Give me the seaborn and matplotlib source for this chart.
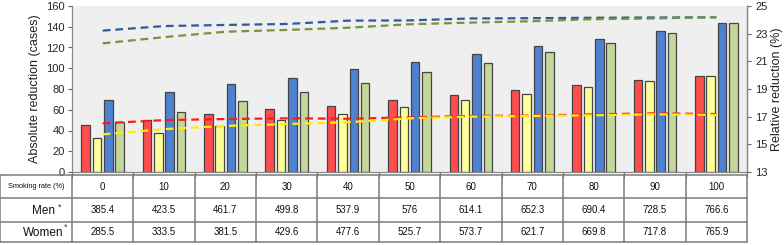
import numpy as np
import pandas as pd
import matplotlib
matplotlib.use("Agg")
import matplotlib.pyplot as plt
import seaborn as sns

# ---------------- data ----------------
smoking_rates = ["0", "10", "20", "30", "40", "50", "60", "70", "80", "90", "100"]
series_names = ["A", "B", "C", "D"]

abs_red = [45, 50, 55.6, 60.4, 64, 69.4, 74, 79, 84.2, 88.7, 92.5]
abs_yellow = [32.5, 38, 44, 50, 56, 63, 69.4, 74.9, 81.6, 87.4, 92.5]
abs_blue = [69, 77, 84.5, 91, 99, 106.3, 113.7, 121.4, 128.2, 135.9, 143.3]
abs_green = [48.5, 58, 68, 77.4, 86, 96.4, 105.4, 115.4, 124.3, 134.3, 143.3]

rel_blue = [23.22, 23.55, 23.63, 23.70, 23.94, 23.96, 24.10, 24.12, 24.15, 24.17, 24.18]
rel_green = [22.30, 22.75, 23.14, 23.27, 23.43, 23.68, 23.80, 23.90, 24.05, 24.10, 24.20]
rel_red = [16.52, 16.75, 16.83, 16.88, 16.85, 16.95, 17.05, 17.08, 17.17, 17.24, 17.19]
rel_yellow = [15.72, 16.10, 16.33, 16.47, 16.60, 16.88, 17.00, 17.05, 17.10, 17.17, 17.12]

men_values = ["385.4", "423.5", "461.7", "499.8", "537.9", "576", "614.1", "652.3", "690.4", "728.5", "766.6"]
women_values = ["285.5", "333.5", "381.5", "429.6", "477.6", "525.7", "573.7", "621.7", "669.8", "717.8", "765.9"]

bar_colors = ["#ff4d4d", "#ffff99", "#4f81d0", "#c4d79b"]
line_colors = {"blue": "#2e5a9c", "green": "#77933c", "red": "#ff1a1a", "yellow": "#ffee00"}

# ---------------- figure ----------------
sns.set_theme(style="white")
plt.rcParams["font.family"] = ["Liberation Sans", "DejaVu Sans"]

W, H = 784, 245
fig = plt.figure(figsize=(W / 100, H / 100), dpi=100)

ax_left, ax_right, ax_top, ax_bot = 72, 747, 6, 172
ax = fig.add_axes([ax_left / W, 1 - ax_bot / H, (ax_right - ax_left) / W, (ax_bot - ax_top) / H])
ax.set_facecolor("#efefef")

df = pd.DataFrame({
    "rate": np.repeat(smoking_rates, 4),
    "series": series_names * len(smoking_rates),
    "value": np.ravel(np.column_stack([abs_red, abs_yellow, abs_blue, abs_green])),
})
sns.barplot(data=df, x="rate", y="value", hue="series", hue_order=series_names,
            palette=bar_colors, width=0.74, gap=0.25, edgecolor="#454545",
            linewidth=0.9, saturation=1, legend=False, ax=ax)

ax.set_xlim(-0.5, 10.5)
ax.set_ylim(0, 160)
ax.set_yticks(range(0, 161, 20))
ax.set_xticks(np.arange(-0.5, 11, 1))
ax.set_xticklabels([])
ax.set_xlabel("")
ax.set_ylabel("Absolute reduction (cases)", fontsize=9, color="#222222", labelpad=4)
ax.tick_params(axis="y", labelsize=8, length=3, width=0.8, color="#666666", left=True, pad=2)
ax.tick_params(axis="x", length=4, width=0.8, color="#666666", bottom=True, direction="out")
for s in ["left", "bottom", "right"]:
    ax.spines[s].set_color("#888888")
    ax.spines[s].set_linewidth(0.9)
ax.spines["top"].set_visible(False)

ax2 = ax.twinx()
xpos = np.arange(len(smoking_rates))
for vals, c in [(rel_blue, line_colors["blue"]), (rel_green, line_colors["green"]),
                (rel_red, line_colors["red"]), (rel_yellow, line_colors["yellow"])]:
    sns.lineplot(x=xpos, y=vals, ax=ax2, color=c, linewidth=1.6, linestyle=(0, (3.5, 2.2)))
ax2.set_ylim(13, 25)
ax2.set_yticks(range(13, 26, 2))
ax2.set_ylabel("Relative reduction (%)", fontsize=9, color="#222222", labelpad=2)
ax2.tick_params(axis="y", labelsize=8, length=3, width=0.8, color="#666666", right=True, pad=3)
for s in ["left", "bottom", "top"]:
    ax2.spines[s].set_visible(False)
ax2.spines["right"].set_color("#888888")
ax2.spines["right"].set_linewidth(0.9)
ax.set_xlim(-0.5, 10.5)

# ---------------- table ----------------
col_w = (ax_right - ax_left) / 11.0
x_min = -0.5 - ax_left / col_w
t_top, t_bot = 175, 242
tab = fig.add_axes([0, 1 - t_bot / H, ax_right / W, (t_bot - t_top) / H])
tab.set_xlim(x_min, 10.5)
row_edges = [175, 198.3, 221.7, 242]
tab.set_ylim(t_bot, t_top)
tab.axis("off")

lc = "#7a7a7a"
for y in row_edges:
    tab.plot([x_min, 10.5], [y, y], color=lc, lw=1.1, clip_on=False)
for xb in [x_min] + list(np.arange(-0.5, 11, 1)):
    tab.plot([xb, xb], [row_edges[0], row_edges[-1]], color=lc, lw=1.1, clip_on=False)

def px2x(px):
    return -0.5 + (px - ax_left) / col_w

row_mid = [(row_edges[i] + row_edges[i + 1]) / 2 for i in range(3)]
tab.text(px2x(36), row_mid[0], "Smoking rate (%)", fontsize=5.3, ha="center", va="center", color="#111111")
tab.text(px2x(55), row_mid[1] + 1, "Men", fontsize=8.5, ha="right", va="center", color="#111111")
tab.text(px2x(59.5), row_mid[1] - 3, "*", fontsize=6.5, ha="center", va="center", color="#333333")
tab.text(px2x(63), row_mid[2] + 1.5, "Women", fontsize=8.5, ha="right", va="center", color="#111111")
tab.text(px2x(66), row_mid[2] - 5, "*", fontsize=6.5, ha="center", va="center", color="#333333")

for i, lab in enumerate(smoking_rates):
    tab.text(i, row_mid[0], lab, fontsize=7, ha="center", va="center", color="#111111")
    tab.text(i, row_mid[1], men_values[i], fontsize=7, ha="center", va="center", color="#111111")
    tab.text(i, row_mid[2], women_values[i], fontsize=7, ha="center", va="center", color="#111111")

fig.savefig("out.png", dpi=100)
